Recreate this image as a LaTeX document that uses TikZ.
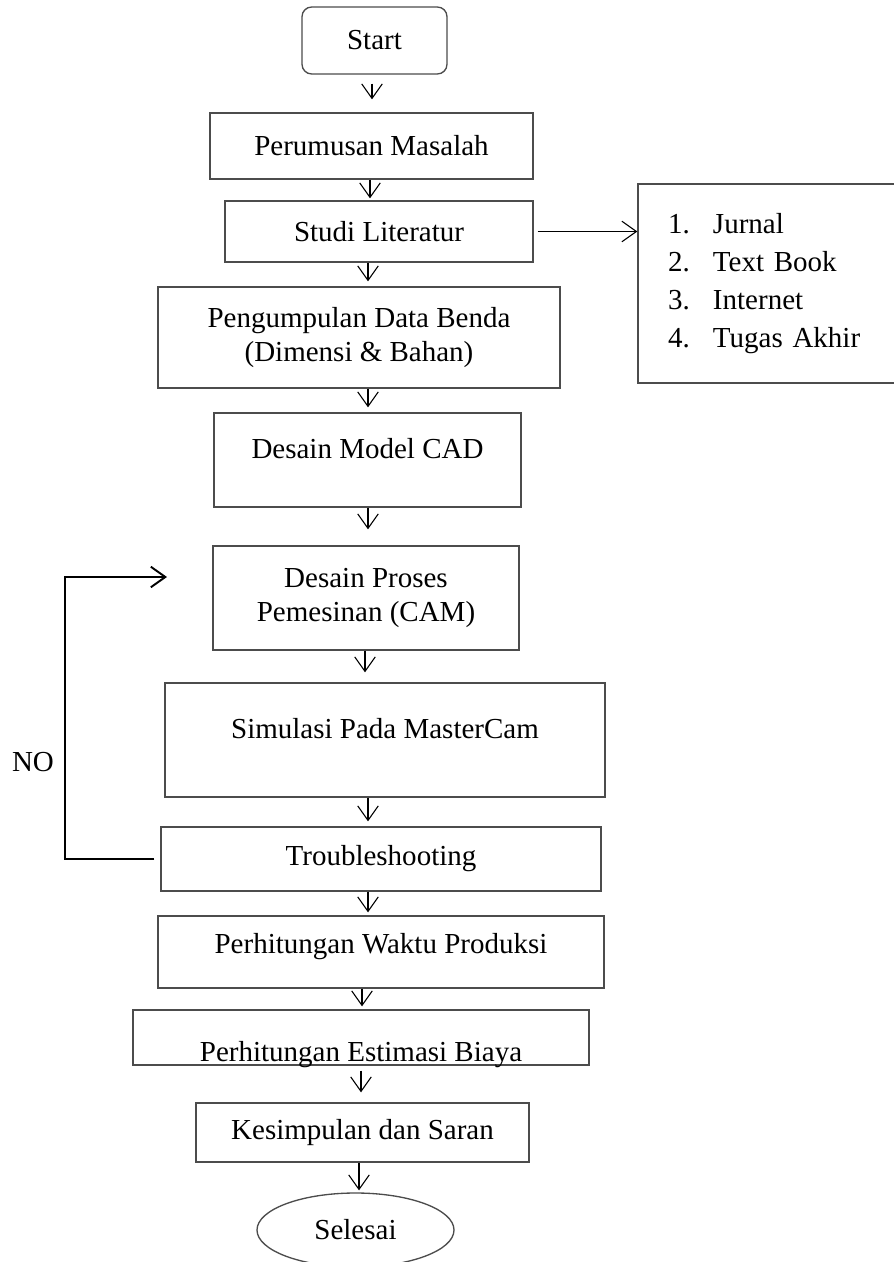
\documentclass[tikz,border=0pt]{standalone}
\usepackage{fontspec}
\setmainfont{Liberation Serif}
\usetikzlibrary{positioning,shapes.geometric,arrows.meta}
\newdimen\pxunit
\pxunit=0.01454cm

\begin{document}
\begin{tikzpicture}[x=\pxunit,y=-\pxunit,on grid,
   font=\fontsize{12}{14.3}\selectfont,
   box/.style 2 args={rectangle,draw=black!70,line width=0.55pt,
      minimum width=#1*\pxunit,minimum height=#2*\pxunit,align=center},
   txt/.style 2 args={text height=#1,text depth=#2},
   flow/.style={->,>={Straight Barb[length=6pt,width=8.5pt]},line width=0.45pt}]
   \useasboundingbox (0,0) rectangle (894,1262);
   \node[box={145}{67},rounded corners=4pt] (start) at (374.5,40.5) {Start};
   \node[box={323}{66}] (perumusan) [below=105.5*\pxunit of start,xshift=-3*\pxunit] {Perumusan Masalah};
   \node[box={308}{61}] (studi) [below=85.5*\pxunit of perumusan,xshift=7.5*\pxunit] {Studi Literatur};
   \node[box={262}{199},align=left,text width=202*\pxunit,inner xsep=30*\pxunit,
      font=\fontsize{12}{15.7}\selectfont] (sumber) [right=390*\pxunit of studi,yshift=-52*\pxunit]
      {\makebox[45\pxunit][l]{1.}Jurnal\\ \makebox[45\pxunit][l]{2.}Text Book\\
       \makebox[45\pxunit][l]{3.}Internet\\ \makebox[45\pxunit][l]{4.}Tugas Akhir\\[-8\pxunit]};
   \node[box={402}{101}] (data) [below=106*\pxunit of studi,xshift=-20*\pxunit] {Pengumpulan Data Benda\\(Dimensi \& Bahan)};
   \node[box={307}{94},txt={8.2pt}{9.8pt}] (cad) [below=122.5*\pxunit of data,xshift=8.5*\pxunit] {Desain Model CAD};
   \node[box={306}{104}] (cam) [below=138*\pxunit of cad,xshift=-1.5*\pxunit] {Desain Proses\\Pemesinan (CAM)};
   \node[box={440}{114},txt={8.2pt}{9.6pt}] (sim) [below=142*\pxunit of cam,xshift=19*\pxunit] {Simulasi Pada MasterCam};
   \node[box={440}{64}] (trouble) [below=119*\pxunit of sim,xshift=-4*\pxunit] {Troubleshooting};
   \node[box={446}{72},txt={8.2pt}{7.1pt}] (waktu) [below=93*\pxunit of trouble] {Perhitungan Waktu Produksi};
   \node[box={456}{55},txt={19.5pt}{0pt},inner ysep=0pt] (biaya) [below=85.5*\pxunit of waktu,xshift=-20*\pxunit] {Perhitungan Estimasi Biaya};
   \node[box={333}{59}] (kesimpulan) [below=95*\pxunit of biaya,xshift=1.5*\pxunit] {Kesimpulan dan Saran};
   \node[box={197}{74},ellipse] (selesai) [below=97.5*\pxunit of kesimpulan,xshift=-7*\pxunit] {Selesai};
   \node (no) at (33,762) {NO};
   \coordinate (turn) at (trouble.west -| 65,0);
   \coordinate (back) at (167,577);
    \path[flow]
    (start.south -| 372,0) edge [shorten <=9*\pxunit,shorten >=13*\pxunit] (perumusan.north -| 372,0)
    (perumusan.south -| 370,0) edge [shorten >=2*\pxunit] (studi.north -| 370,0)
    (studi.south -| 368,0) edge [shorten >=5*\pxunit] (data.north -| 368,0)
    (data.south -| 368,0) edge [shorten >=5*\pxunit] (cad.north -| 368,0)
    (cad.south -| 368,0) edge [shorten >=16*\pxunit] (cam.north -| 368,0)
    (cam.south -| 365,0) edge [shorten >=10*\pxunit] (sim.north -| 365,0)
    (sim.south -| 368,0) edge [shorten >=5*\pxunit] (trouble.north -| 368,0)
    (trouble.south -| 368,0) edge [shorten >=3*\pxunit] (waktu.north -| 368,0)
    (waktu.south -| 362,0) edge [shorten >=3*\pxunit] (biaya.north -| 362,0)
    (biaya.south -| 361,0) edge [shorten <=5*\pxunit,shorten >=10*\pxunit] (kesimpulan.north -| 361,0)
    (kesimpulan.south -| 359,0) edge [shorten >=2*\pxunit] (selesai.north -| 359,0)
    (studi.east) edge [shorten <=4*\pxunit] (studi.east -| sumber.west);
   \draw[flow,line width=0.8pt,shorten <=6*\pxunit] (trouble.west) -- (turn) |- (back);
\end{tikzpicture}
\end{document}
